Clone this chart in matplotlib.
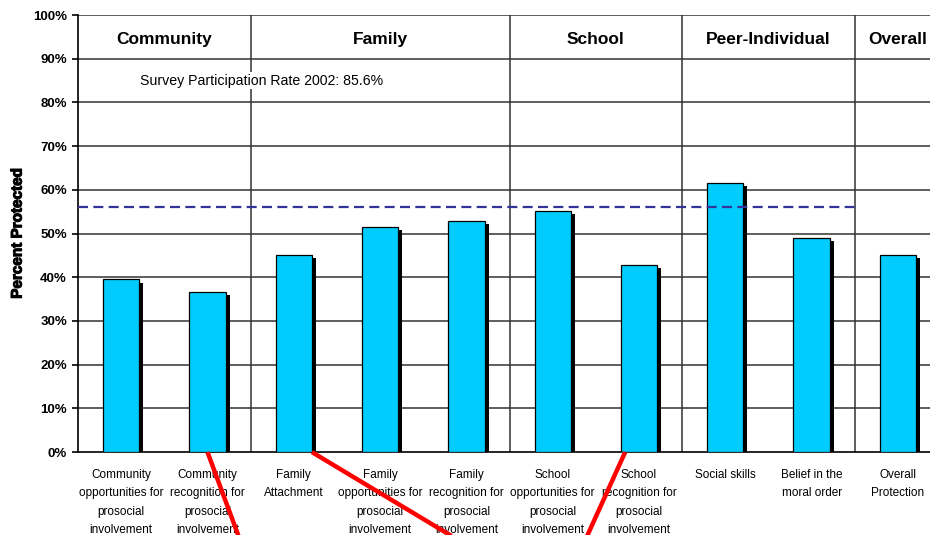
import matplotlib.pyplot as plt
import matplotlib.transforms as mtransforms
import matplotlib.patheffects as pe
from matplotlib import font_manager
import numpy as np

labels = ['Community\nopportunities for\nprosocial\ninvolvement',
          'Community\nrecognition for\nprosocial\ninvolvement',
          'Family\nAttachment',
          'Family\nopportunities for\nprosocial\ninvolvement',
          'Family\nrecognition for\nprosocial\ninvolvement',
          'School\nopportunities for\nprosocial\ninvolvement',
          'School\nrecognition for\nprosocial\ninvolvement',
          'Social skills',
          'Belief in the\nmoral order',
          'Overall\nProtection']
protected = [39.5, 36.6, 45.1, 51.5, 52.9, 55.1, 42.8, 61.6, 49.0, 45.1]
groups = ['Community', 'Family', 'School', 'Peer-Individual', 'Overall']
group_sizes = [2, 3, 2, 2, 1]
benchmark = 56.1
participation = 'Survey Participation Rate 2002: 85.6%'

plt.rcParams['font.family'] = ['Liberation Sans', 'DejaVu Sans']
installed = {f.name for f in font_manager.fontManager.ttflist}
narrow = [f for f in ['Liberation Sans Narrow', 'DejaVu Sans Condensed'] if f in installed]
narrow = (narrow + ['Liberation Sans'])[:1]
small = 9 if narrow[0] != 'Liberation Sans' else 8.5

fig = plt.figure(figsize=(9.3, 5.35), dpi=100)
ax = fig.add_axes([0.0839, 0.155, 0.928, 0.8168])

x = np.arange(len(protected))
w = 0.42
vals = np.array(protected)
# drop shadow behind each bar
ax.bar(x + 0.047, vals - 0.7, width=w, color='black', zorder=2)
ax.bar(x, vals, width=w, color='#00CCFF', edgecolor='black', linewidth=0.9, zorder=3)

ax.set_xlim(-0.5, len(protected) - 0.5)
ax.set_ylim(0, 100)
ax.set_yticks(np.arange(0, 101, 10))
ax.set_yticklabels([f'{v}%' for v in range(0, 101, 10)], fontweight='bold', fontsize=9.5)
for v in range(10, 101, 10):
    ax.axhline(v, color='#333333', linewidth=1.1, zorder=1)

# group dividers and header names
edges = np.cumsum([0] + group_sizes) - 0.5
for e in edges[1:-1]:
    ax.axvline(e, color='#333333', linewidth=1.1, zorder=1)
for name, a, b in zip(groups, edges[:-1], edges[1:]):
    ax.text((a + b) / 2, 94.4, name, ha='center', va='center', fontsize=12.5, fontweight='bold')

ax.text(0.22, 85, participation, ha='left', va='center', fontsize=10.2, family=narrow,
        bbox=dict(facecolor='white', edgecolor='none', pad=1), zorder=4)

ax.plot([-0.5, edges[-2]], [benchmark, benchmark], color='#333399', linestyle=(0, (4.5, 2.4)),
        linewidth=1.6, zorder=4)

ax.set_xticks(x)
ax.set_xticklabels(labels, fontsize=small, family=narrow, linespacing=18 / (small * 1.226))
ax.tick_params(axis='x', length=0, pad=12)
ax.tick_params(axis='y', length=4, width=1.2, pad=4)
ax.set_ylabel('Percent Protected', fontsize=11, fontweight='heavy', labelpad=6,
              path_effects=[pe.withStroke(linewidth=0.8, foreground='black')])

for s in ['top', 'right']:
    ax.spines[s].set_visible(False)
ax.spines['left'].set_linewidth(1.2)
ax.spines['bottom'].set_linewidth(1.2)

# red connector strokes below the axis
trans = mtransforms.blended_transform_factory(ax.transData, ax.transAxes)
for x0, x1 in [(1.0, 1.44), (2.21, 4.19), (5.84, 5.30)]:
    ax.plot([x0, x1], [0, -0.235], color='red', linewidth=3.2, transform=trans,
            clip_on=False, zorder=5, solid_capstyle='butt')

fig.savefig('out.png', dpi=100)
